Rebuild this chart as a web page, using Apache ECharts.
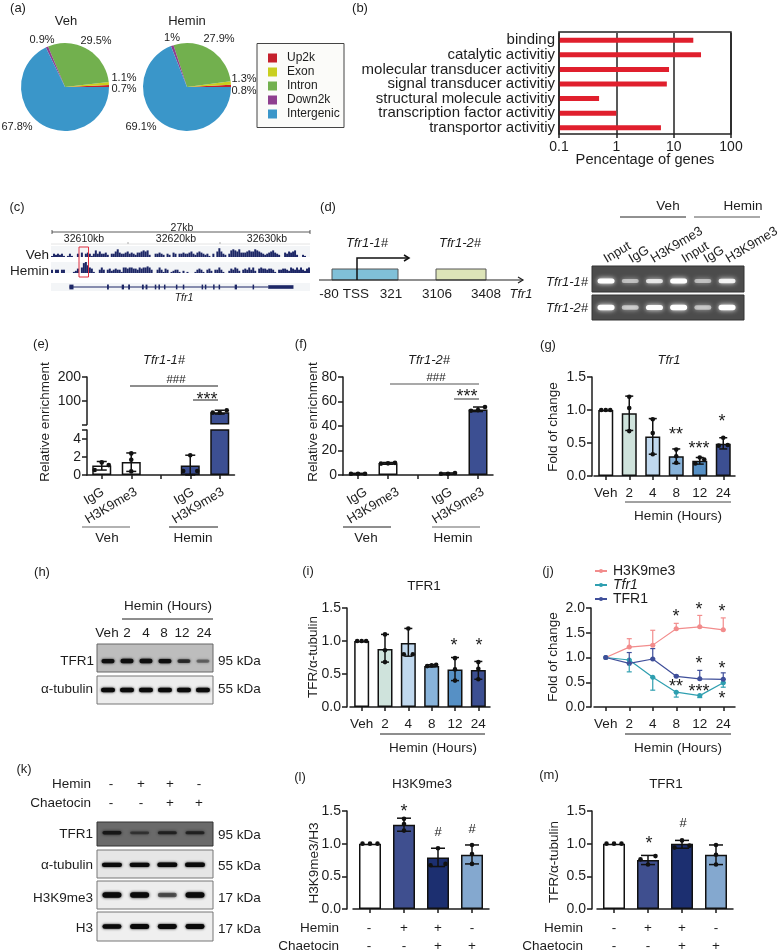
<!DOCTYPE html>
<html><head><meta charset="utf-8">
<style>html,body{margin:0;padding:0;background:#fff}#c{width:780px;height:952px}</style>
<script src="https://cdn.jsdelivr.net/npm/echarts@6/dist/echarts.min.js"></script>
</head><body><div id="c"></div>
<script>
// ---------- DATA ----------
const pieNames = ['Up2k','Exon','Intron','Down2k','Intergenic'];
const pieColors = ['#c5202c','#c9cf1f','#72b04e','#8e3f8f','#3a96c9'];
const vehPie = [0.7,1.1,29.5,0.9,67.8];
const heminPie = [0.8,1.3,27.9,1.0,69.1];

const goTerms = ['binding','catalytic activitiy','molecular transducer activitiy','signal transducer activitiy','structural molecule activitiy','transcription factor activitiy','transportor activitiy'];
const goValues = [22,30,8.3,7.6,0.5,1.0,6.0];
const goTicks = [0.1,1,10,100];

const vehTrack = [1,3,2,3,2,3,1,0,1,3,1,0,0,3,0,4,0,3,4,3,1,3,6,3,5,3,3,4,2,0,3,3,5,7,4,3,3,4,5,3,4,3,2,4,4,5,6,5,6,2,0,0,3,3,4,3,2,0,3,2,0,4,3,0,3,3,4,3,3,4,5,3,2,4,5,4,3,2,3,1,0,3,0,5,8,5,3,2,0,3,6,7,6,5,7,4,4,4,5,6,5,5,7,6,5,4,3,2,3,4,5,6,4,3,2,0,0,4,3,5,4,5,6,2,0,0,2,1,0,0];
const heminTrack = [3,0,3,3,0,3,3,0,0,0,0,1,2,4,0,5,9,10,7,5,4,1,0,0,3,5,3,0,3,4,2,3,4,3,3,1,5,5,4,5,5,4,4,3,5,4,5,5,6,5,3,0,0,3,5,3,1,4,3,0,1,2,3,3,1,0,2,0,1,0,0,0,1,3,4,3,1,0,3,4,2,0,3,3,5,3,1,0,0,2,4,3,5,4,2,0,3,4,3,5,3,5,2,0,4,5,4,4,3,4,4,3,1,0,3,3,4,4,3,2,5,4,3,5,3,5,3,2,4,5];
const trackRangeKb = [32606.5,32634.7];
const exons = [[32608.5,32608.95],[32612.6,32612.8],[32614.2,32614.45],[32614.9,32615.1],[32616.4,32616.6],[32616.8,32617],[32617.8,32617.95],[32618.2,32618.35],[32618.8,32618.95],[32620.1,32620.25],[32620.85,32621],[32622.9,32623],[32623.25,32623.35],[32624.15,32624.25],[32624.75,32624.85],[32626.5,32626.75],[32628.45,32628.55]];
const utr = [[32630.15,32632.9]];
const intron = [32608.5,32630.15];

const gelLanes = ['Input','IgG','H3K9me3','Input','IgG','H3K9me3'];
const gelRow1 = [1,0.4,0.65,1,0.4,0.75];
const gelRow2 = [1,0.45,0.85,1,0.42,0.9];

const enrichCats = ['IgG','H3K9me3','','IgG','H3K9me3'];
const eMeans = [1.05,1.45,null,1.05,52];
const eLo = [0.55,0.4,null,0,44];
const eHi = [1.5,2.45,null,2.2,60];
const ePoints = [[0.55,1.1,1.4],[0.4,1.7,2.4],[],[0.45,0.45,2.2],[50,50,60]];
const eTicksLow = [0,2,4];
const eTicksHigh = [100,200];

const fMeans = [1,9.5,null,1.1,53.5];
const fLo = [0.6,8.8,null,0.6,51.8];
const fHi = [1.4,10.2,null,1.7,55.5];
const fPoints = [[1,1,1],[9.3,9.5,9.9],[],[1,1,1.6],[52.5,53,55.5]];

const hourCats = ['Veh','2','4','8','12','24'];
const gMeans = [1,0.95,0.6,0.3,0.23,0.49];
const gLo = [1,0.69,0.33,0.19,0.18,0.41];
const gHi = [1,1.21,0.87,0.41,0.28,0.58];
const gPoints = [[1,1,1],[0.68,1.03,1.2],[0.33,0.65,0.86],[0.2,0.3,0.4],[0.19,0.25,0.28],[0.46,0.47,0.58]];

const iMeans = [1,0.88,0.97,0.62,0.57,0.56];
const iLo = [1,0.68,0.77,0.61,0.4,0.42];
const iHi = [1,1.1,1.19,0.64,0.75,0.69];
const iPoints = [[1,1,1],[0.68,0.86,1.1],[0.8,0.8,1.19],[0.62,0.63,0.64],[0.4,0.57,0.74],[0.42,0.58,0.68]];

const jH3k = [1,1.21,1.25,1.58,1.62,1.56];
const jH3kHi = [1,1.38,1.55,1.69,1.85,1.8];
const jTfr1m = [1,0.95,0.6,0.3,0.23,0.49];
const jTfr1mLo = [1,0.71,0.34,0.2,0.19,0.4];
const jTfr1p = [1,0.88,0.97,0.62,0.57,0.56];
const jTfr1pHi = [1,1.1,1.18,0.64,0.74,0.69];

const lmCats = ['a','b','c','d'];
const hemSigns = ['-','+','+','-'];
const chaSigns = ['-','-','+','+'];
const lMeans = [1,1.29,0.79,0.83];
const lLo = [1,1.19,0.65,0.69];
const lHi = [1,1.39,0.93,0.98];
const lPoints = [[1,1,1],[1.2,1.3,1.38],[0.67,0.69,0.93],[0.69,0.84,0.98]];
const mMeans = [1,0.75,1,0.83];
const mLo = [1,0.68,0.93,0.68];
const mHi = [1,0.82,1.05,0.98];
const mPoints = [[1,1,1],[0.68,0.76,0.81],[0.94,0.97,1.05],[0.68,0.83,0.98]];

const hBlotTFR1 = [0.9,1,0.95,0.9,0.55,0.25];
const hBlotTub = [1,0.95,0.95,0.95,1,0.9];
const kBlotTFR1 = [0.95,0.4,0.65,0.65];
const kBlotTub = [0.95,0.95,1,1];
const kBlotH3K = [1,1,0.4,0.95];
const kBlotH3 = [0.85,1,0.95,0.95];

// ---------- STYLE ----------
const FONT = '"Liberation Sans",Arial,sans-serif';
const INK = '#1d1d1d';
const hourColors = ['#ffffff','#cfe3dc','#c0d8ee','#88b3da','#5690c5','#3c4f92'];
const lmColors = ['#ffffff','#3f4f8f','#1c2f70','#84a8cf'];
const fColors = ['#ffffff','#ffffff','#ffffff','#3c4f92','#3c4f92'];

const O = {grid:[],xAxis:[],yAxis:[],series:[],graphic:[],legend:[]};
function addGrid(x0,x1,y0,y1,extra){
  O.grid.push(Object.assign({left:x0,top:y0,width:x1-x0,height:y1-y0,containLabel:false},extra||{}));
  return O.grid.length-1;
}
function T(text,x,y,o){
  o=o||{};
  O.graphic.push({type:'text',x:x,y:y,rotation:(o.rot||0)*Math.PI/180,z:20,
    style:{text:text,x:0,y:0,fill:o.fill||INK,font:(o.italic?'italic ':'')+(o.size||13.5)+'px '+FONT,
      textAlign:o.align||'center',textVerticalAlign:'middle'}});
}
function L(x1,y1,x2,y2,c,w){
  O.graphic.push({type:'line',z:20,shape:{x1,y1,x2,y2},style:{stroke:c||INK,lineWidth:w||1}});
}
function R(x,y,w,h,o){
  O.graphic.push({type:'rect',z:o.z||19,shape:{x,y,width:w,height:h},style:{fill:o.fill||'none',stroke:o.stroke||'none',lineWidth:o.lw||1}});
}
function star(s,x,y){T(s,x,y+4,{size:18});}
function hash(s,x,y){T(s,x,y,{size:s.length>1?11.5:13});}

// dots share a bar: close values spread out sideways
function swarm(vals,pxPerUnit,spread){
  const out=[];const sorted=vals.slice().sort((a,b)=>a-b);
  let i=0;
  while(i<sorted.length){
    let j=i;while(j+1<sorted.length&&(sorted[j+1]-sorted[i])*pxPerUnit<5)j++;
    const n=j-i+1;
    for(let k=0;k<n;k++)out.push([sorted[i+k],n===1?0:n===2?(k?spread:-spread):(k-1)*spread]);
    i=j+1;
  }
  return out;
}
function errSeries(gi,means,lo,hi,cap,color,lw){
  return {type:'custom',xAxisIndex:gi,yAxisIndex:gi,z:5,silent:true,clip:false,
    data:means.map((m,i)=>m==null?null:[i,m,lo[i],hi[i]]).filter(Boolean),
    renderItem:(p,api)=>{
      const a=api.coord([api.value(0),api.value(2)]),b=api.coord([api.value(0),api.value(3)]);
      const st={stroke:color||'#111',lineWidth:lw||1.5};
      const ch=[{type:'line',shape:{x1:a[0],y1:a[1],x2:b[0],y2:b[1]},style:st}];
      if(Math.abs(a[1]-b[1])>0.5){
        ch.push({type:'line',shape:{x1:a[0]-cap,y1:b[1],x2:a[0]+cap,y2:b[1]},style:st});
        ch.push({type:'line',shape:{x1:a[0]-cap,y1:a[1],x2:a[0]+cap,y2:a[1]},style:st});
      }
      return {type:'group',children:ch};
    },encode:{x:0,y:1}};
}
function dotSeries(gi,points,pxPerUnit,spread,r){
  const d=[];points.forEach((vals,i)=>swarm(vals,pxPerUnit,spread).forEach(s=>d.push([i,s[0],s[1]])));
  return {type:'custom',xAxisIndex:gi,yAxisIndex:gi,z:6,silent:true,clip:false,data:d,
    renderItem:(p,api)=>{
      const c=api.coord([api.value(0),api.value(1)]);
      return {type:'circle',shape:{cx:c[0]+api.value(2),cy:c[1],r:r||2.3},style:{fill:'#111'}};
    },encode:{x:0,y:1}};
}
function yAx(gi,min,max,iv,extra){
  return Object.assign({gridIndex:gi,type:'value',min,max,interval:iv,splitLine:{show:false},
    axisLine:{show:true,lineStyle:{color:INK,width:1.5}},axisTick:{show:true,length:5,lineStyle:{color:INK,width:1.5}},
    axisLabel:{color:INK,fontFamily:FONT,fontSize:14,margin:6,formatter:v=>iv<1?v.toFixed(1):String(v)}},extra||{});
}
function xAx(gi,cats,extra,labelExtra){
  return Object.assign({gridIndex:gi,type:'category',data:cats,boundaryGap:true,
    axisLine:{show:true,onZero:false,lineStyle:{color:INK,width:1.5}},
    axisTick:{show:true,alignWithLabel:true,length:4,lineStyle:{color:INK,width:1.5}},
    axisLabel:Object.assign({color:INK,fontFamily:FONT,fontSize:13.5,margin:10,interval:0},labelExtra||{})},extra||{});
}
function barS(gi,vals,colors,w){
  return {type:'bar',xAxisIndex:gi,yAxisIndex:gi,barWidth:w,z:3,silent:true,clip:true,
    data:vals.map((v,i)=>({value:v,itemStyle:{color:colors[i],borderColor:'#111',borderWidth:1.5}}))};
}
function barPanel(p){
  const gi=addGrid(p.x0,p.x1,p.y0,p.y1);
  O.xAxis.push(xAx(gi,p.cats,{},p.labelX));
  O.yAxis.push(yAx(gi,p.min,p.max,p.iv,p.axisOffset?{offset:p.axisOffset}:{}));
  O.series.push(barS(gi,p.means,p.colors,p.bw));
  O.series.push(errSeries(gi,p.means,p.lo,p.hi,p.cap));
  O.series.push(dotSeries(gi,p.points,(p.y1-p.y0)/(p.max-p.min),p.spread));
  return gi;
}
function blot(x0,x1,y0,y1,vals,laneMin,laneMax,bg,band,bw,bh,blur,border,yf){
  const gi=addGrid(x0,x1,y0,y1,{show:true,backgroundColor:bg,borderColor:border||'#555',borderWidth:1});
  O.xAxis.push({gridIndex:gi,type:'value',min:laneMin,max:laneMax,show:false});
  O.yAxis.push({gridIndex:gi,type:'value',min:0,max:1,show:false});
  O.series.push({type:'custom',xAxisIndex:gi,yAxisIndex:gi,z:4,silent:true,clip:true,
    data:vals.map((v,i)=>[i,yf==null?0.5:yf,v]),
    renderItem:(p,api)=>{
      const c=api.coord([api.value(0),api.value(1)]),v=api.value(2);
      const h=bh*(0.65+0.35*v);
      return {type:'rect',shape:{x:c[0]-bw/2,y:c[1]-h/2,width:bw,height:h,r:h/2},
        style:{fill:band,opacity:Math.min(1,0.12+v),shadowBlur:blur,shadowColor:band}};
    },encode:{x:0,y:1}});
}
// ---------- (a) ----------
function pie(vals,cx){
  O.series.push({type:'pie',center:[cx,87],radius:[0,44],startAngle:0,clockwise:false,silent:true,
    label:{show:false},labelLine:{show:false},avoidLabelOverlap:false,minAngle:0,
    itemStyle:{borderWidth:0},animation:false,
    data:vals.map((v,i)=>({name:pieNames[i],value:v,itemStyle:{color:pieColors[i]}}))});
}
pie(vehPie,65);pie(heminPie,187);
T('(a)',18,8,{size:13});T('Veh',66,21,{size:13});T('Hemin',187,21,{size:13});
[['0.9%',42,40],['29.5%',96,41],['1.1%',124,78],['0.7%',124,89],['67.8%',17,127],
 ['1%',172,38],['27.9%',219,39],['1.3%',244,79],['0.8%',244,91],['69.1%',141,127]].forEach(a=>T(a[0],a[1],a[2],{size:11}));
R(257,43.5,87,84,{fill:'#fbfbf9',stroke:'#444',lw:1,z:1});
O.legend.push({data:pieNames,orient:'vertical',left:268,top:52,itemWidth:9,itemHeight:9,itemGap:2,icon:'rect',
  selectedMode:false,padding:0,z:20,textStyle:{color:INK,fontFamily:FONT,fontSize:12,padding:[0,0,0,5]}});

// ---------- (b) ----------
T('(b)',360,8,{size:13});
(function(){
  const gi=addGrid(559,731,33,135);
  R(559,32,172,102,{stroke:'#222',lw:1.5,z:8});
  O.xAxis.push({gridIndex:gi,type:'log',logBase:10,min:goTicks[0],max:goTicks[3],
    axisLine:{show:false},axisTick:{show:true,length:3,lineStyle:{color:'#222',width:1.5}},minorTick:{show:false},
    splitLine:{show:true,lineStyle:{color:'#222',width:1.5}},minorSplitLine:{show:false},
    axisLabel:{color:INK,fontFamily:FONT,fontSize:14,margin:5,formatter:v=>String(+(+v).toPrecision(3)),hideOverlap:false}});
  O.yAxis.push({gridIndex:gi,type:'category',data:goTerms,inverse:true,axisLine:{show:false},axisTick:{show:false},
    axisLabel:{color:INK,fontFamily:FONT,fontSize:15,margin:4,interval:0}});
  O.series.push({type:'custom',xAxisIndex:gi,yAxisIndex:gi,z:5,silent:true,clip:false,
    data:goValues.map((v,i)=>[v,i]),encode:{x:0,y:1},
    renderItem:(p,api)=>{
      const a=api.coord([goTicks[0],api.value(1)]),b=api.coord([api.value(0),api.value(1)]);
      return {type:'rect',shape:{x:a[0],y:a[1]-2.5,width:b[0]-a[0],height:5},style:{fill:'#e01f2d'}};
    }});
})();
T('Pencentage of genes',645,160,{size:14.7});

// ---------- (c) ----------
T('(c)',17,207,{size:13});
T('27kb',182,228,{size:10.5});
L(52,232,310,232,'#333',0.8);L(52,230,52,234,'#333',0.8);L(310,230,310,234,'#333',0.8);
T('32610kb',84,239,{size:10.5});T('32620kb',176,239,{size:10.5});T('32630kb',267,239,{size:10.5});
L(51,244,310,244,'#ddd',0.8);L(128,242,128,244,'#999',0.8);L(220,242,220,244,'#999',0.8);
function track(vals,y0,y1){
  const gi=addGrid(51,310,y0,y1,{show:true,backgroundColor:'#f3f5f7',borderWidth:0});
  O.xAxis.push({gridIndex:gi,type:'category',data:vals.map((v,i)=>i),show:false,boundaryGap:true});
  O.yAxis.push({gridIndex:gi,type:'value',min:0,max:10,show:false});
  O.series.push({type:'bar',xAxisIndex:gi,yAxisIndex:gi,data:vals,barCategoryGap:0,silent:true,itemStyle:{color:'#1d2766'}});
}
track(vehTrack,246,257);track(heminTrack,262,273);
T('Veh',49,255,{align:'right'});T('Hemin',49,271,{align:'right'});
(function(){
  const gi=addGrid(51,310,283,291,{show:true,backgroundColor:'#f3f5f7',borderWidth:0});
  O.xAxis.push({gridIndex:gi,type:'value',min:trackRangeKb[0],max:trackRangeKb[1],show:false,scale:true});
  O.yAxis.push({gridIndex:gi,type:'value',min:0,max:1,show:false});
  O.series.push({type:'custom',xAxisIndex:gi,yAxisIndex:gi,silent:true,
    data:[[intron[0],intron[1],0.12]].concat(exons.map(e=>[e[0],e[1],0.6])).concat(utr.map(e=>[e[0],e[1],0.45])),
    renderItem:(p,api)=>{
      const a=api.coord([api.value(0),0.5]),b=api.coord([api.value(1),0.5]),h=api.value(2)*8;
      return {type:'rect',shape:{x:a[0],y:a[1]-h/2,width:Math.max(1.5,b[0]-a[0]),height:h},style:{fill:'#1d2766'}};
    },encode:{x:0,y:2}});
})();
T('Tfr1',184,298,{size:10.5,italic:true});
R(79,247,9.5,30,{stroke:'#e03040',lw:1,z:22});

// ---------- (d) ----------
T('(d)',328,207,{size:13});
R(332,269,66,11,{fill:'#80c0d8',stroke:'#555',lw:1});
R(436,269,50,11,{fill:'#dde4b8',stroke:'#555',lw:1});
L(319,280,523,280,'#222',1.2);
O.graphic.push({type:'polyline',z:21,shape:{points:[[518,277],[523,280],[518,283]]},style:{stroke:'#222',fill:'none',lineWidth:1.2}});
O.graphic.push({type:'polyline',z:21,shape:{points:[[357,280],[357,258],[409,258]]},style:{stroke:'#111',fill:'none',lineWidth:1.5}});
O.graphic.push({type:'polyline',z:21,shape:{points:[[404,255],[409,258],[404,261]]},style:{stroke:'#111',fill:'none',lineWidth:1.5}});
T('Tfr1-1#',367,243,{italic:true,size:13});T('Tfr1-2#',460,243,{italic:true,size:13});
[['-80',329],['TSS',356],['321',391],['3106',437],['3408',486]].forEach(a=>T(a[0],a[1],294));
T('Tfr1',521,294,{italic:true,size:13});
blot(592,744,266,292,gelRow1,-0.58,5.7,'#4c4c4c','#ffffff',17,5,5,'#333',0.42);
blot(592,744,295,320,gelRow2,-0.58,5.7,'#4c4c4c','#ffffff',17,5.5,5,'#333');
T('Tfr1-1#',588,282,{italic:true,align:'right',size:13});T('Tfr1-2#',588,308,{italic:true,align:'right',size:13});
[[605,gelLanes[0]],[630,gelLanes[1]],[652,gelLanes[2]],[683,gelLanes[3]],[705,gelLanes[4]],[727,gelLanes[5]]].forEach(a=>T(a[1],a[0],260,{align:'left',rot:31,size:13}));
L(620,217,686,217,'#222',1);L(694,217,760,217,'#555',1);
T('Veh',668,206);T('Hemin',743,206);

// ---------- (e) ----------
T('(e)',41,344,{size:13});T('Tfr1-1#',164,360,{italic:true,size:13});
(function(){
  const lo=addGrid(87,234.5,430,475);
  O.xAxis.push(xAx(lo,enrichCats,{},{show:false}));
  O.yAxis.push(yAx(lo,0,5,2,{axisLabel:{color:INK,fontFamily:FONT,fontSize:14,margin:6,formatter:v=>eTicksLow.includes(v)?String(v):''}}));
  O.series.push(barS(lo,eMeans,fColors,19));
  O.series.push(errSeries(lo,eMeans.map((m,i)=>i<4?m:null),eLo,eHi,5));
  O.series.push(dotSeries(lo,ePoints.map((v,i)=>i<4?v:[]),9,7));
  const hi=addGrid(87,234.5,377,424.5);
  O.xAxis.push(xAx(hi,enrichCats,{show:false}));
  O.yAxis.push(yAx(hi,0,200,100,{axisLabel:{color:INK,fontFamily:FONT,fontSize:14,margin:6,formatter:v=>eTicksHigh.includes(v)?String(v):''}}));
  O.series.push(barS(hi,[null,null,null,null,eMeans[4]],fColors,19));
  O.series.push(errSeries(hi,[null,null,null,null,eMeans[4]],[0,0,0,0,eLo[4]],[0,0,0,0,eHi[4]],5));
  O.series.push(dotSeries(hi,[[],[],[],[],ePoints[4]],0.24,7));
})();
T('Relative enrichment',45,422,{rot:90});
L(130,386,218,386);hash('###',176,380);L(193,400,218,400);star('***',207,396);
[[103,0],[136,1],[193,3],[223,4]].forEach(a=>T(enrichCats[a[1]],a[0],491,{align:'right',rot:31,size:13}));
L(82,527,130,527,'#666',1.2);T('Veh',107,538);L(169,527,218,527);T('Hemin',193,538);

// ---------- (f) ----------
T('(f)',301,344,{size:13});T('Tfr1-2#',429,360,{italic:true,size:13});
barPanel({x0:343,x1:493,y0:377,y1:475,cats:enrichCats,labelX:{show:false},min:0,max:80,iv:20,
  means:fMeans,lo:fLo,hi:fHi,points:fPoints,colors:fColors,bw:19,cap:5,spread:7});
T('Relative enrichment',313,422,{rot:90});
L(390,384,479,384,'#555',1.2);hash('###',436,378);L(454,399,479,399,'#555',1.2);star('***',467,393);
[[366,0],[398,1],[451,3],[483,4]].forEach(a=>T(enrichCats[a[1]],a[0],491,{align:'right',rot:31,size:13}));
L(343,527,391,527);T('Veh',366,538);L(432,527,480,527,'#666',1.2);T('Hemin',453,538);

// ---------- (g) ----------
T('(g)',548,345,{size:13});T('Tfr1',669,360,{italic:true,size:13});
barPanel({x0:594,x1:735,y0:377,y1:476,cats:hourCats,min:0,max:1.5,iv:0.5,axisOffset:2,
  means:gMeans,lo:gLo,hi:gHi,points:gPoints,colors:hourColors,bw:15,cap:4,spread:4.5});
T('Fold of change',553,427,{rot:90});
star('**',676,431);star('***',699,445);star('*',722,418);
L(625,502,731,502,'#444',1);T('Hemin (Hours)',678,516);

// ---------- (h) ----------
T('(h)',42,572,{size:13});T('Hemin (Hours)',168,606);L(122,619,213,619);
[['Veh',107],['2',127],['4',146],['8',164],['12',182],['24',204]].forEach(a=>T(a[0],a[1],633));
blot(97,213,644,672,hBlotTFR1,-0.58,5.53,'#bdbdbd','#0e0e0e',13,4.5,2.5,'#666',0.39);
blot(97,213,676,704,hBlotTub,-0.58,5.53,'#ededed','#0a0a0a',14,4.5,2.5,'#777');
T('TFR1',94,661,{align:'right'});T('α-tubulin',93,689,{align:'right'});
T('95 kDa',218,661,{align:'left'});T('55 kDa',218,689,{align:'left'});

// ---------- (i) ----------
T('(i)',308,571,{size:13});T('TFR1',424,586);
barPanel({x0:350,x1:490,y0:608,y1:707,cats:hourCats,min:0,max:1.5,iv:0.5,axisOffset:3,
  means:iMeans,lo:iLo,hi:iHi,points:iPoints,colors:hourColors,bw:15,cap:4,spread:4.5});
T('TFR/α-tubulin',313,657,{rot:90});
star('*',454,642);star('*',479,642);
L(380,734,485,734);T('Hemin (Hours)',433,748);

// ---------- (j) ----------
T('(j)',548,571,{size:13});
(function(){
  const gi=addGrid(594,735,608,707);
  O.xAxis.push(xAx(gi,hourCats));
  O.yAxis.push(yAx(gi,0,2,0.5,{offset:3}));
  const lineS=(name,data,color)=>({type:'line',name,xAxisIndex:gi,yAxisIndex:gi,data,symbol:'circle',symbolSize:5,z:4,silent:true,
    lineStyle:{color,width:1.2},itemStyle:{color}});
  O.series.push(lineS('H3K9me3',jH3k,'#f28c8c'));
  O.series.push(lineS('Tfr1',jTfr1m,'#2f9fb0'));
  O.series.push(lineS('TFR1',jTfr1p,'#3f4f9a'));
  O.series.push(errSeries(gi,jH3k,jH3k,jH3kHi,2.5,'#f28c8c',1.2));
  O.series.push(errSeries(gi,jTfr1m,jTfr1mLo,jTfr1m,2.5,'#2f9fb0',1.2));
  O.series.push(errSeries(gi,jTfr1p,jTfr1p,jTfr1pHi,2.5,'#3f4f9a',1.2));
  O.legend.push({data:['H3K9me3','Tfr1','TFR1'],orient:'vertical',left:594,top:564,itemWidth:12,itemHeight:5,itemGap:0,selectedMode:false,padding:0,
    formatter:n=>n==='Tfr1'?'{i|Tfr1}':'{n|'+n+'}',
    textStyle:{rich:{i:{fontStyle:'italic',fontFamily:FONT,fontSize:14,color:INK,lineHeight:14},n:{fontFamily:FONT,fontSize:14,color:INK,lineHeight:14}},padding:[0,0,0,1]}});
})();
T('Fold of change',553,657,{rot:90});
star('*',676,613);star('*',699,606);star('*',722,608);star('*',699,660);star('*',722,665);
star('**',676,683);star('***',699,688);star('*',722,695);
L(625,734,731,734);T('Hemin (Hours)',678,748);

// ---------- (k) ----------
T('(k)',24,769,{size:13});
T('Hemin',91,784,{align:'right'});T('Chaetocin',91,803,{align:'right'});
[111,141,170,199].forEach((x,i)=>{T(hemSigns[i],x,784);T(chaSigns[i],x,803);});
blot(97,213,822,846,kBlotTFR1,-0.54,3.65,'#6a6a6a','#161616',19,3.5,3,'#333',0.55);
blot(97,213,850,878,kBlotTub,-0.54,3.65,'#e6e6e6','#0a0a0a',20,4.5,2.5,'#777',0.47);
blot(97,213,881,909,kBlotH3K,-0.54,3.65,'#ededed','#0a0a0a',19,5.5,3,'#777',0.5);
blot(97,213,912,941,kBlotH3,-0.54,3.65,'#efefef','#0a0a0a',19,5,2.5,'#777');
[['TFR1',834],['α-tubulin',865],['H3K9me3',898],['H3',928]].forEach(a=>T(a[0],93,a[1],{align:'right'}));
[['95 kDa',835],['55 kDa',866],['17 kDa',898],['17 kDa',929]].forEach(a=>T(a[0],218,a[1],{align:'left'}));

// ---------- (l) ----------
T('(l)',300,777,{size:13});T('H3K9me3',422,784);
barPanel({x0:353,x1:489,y0:811,y1:909,cats:lmCats,labelX:{show:false},min:0,max:1.5,iv:0.5,axisOffset:6,
  means:lMeans,lo:lLo,hi:lHi,points:lPoints,colors:lmColors,bw:22,cap:7,spread:7.5});
T('H3K9me3/H3',314,863,{rot:90});
star('*',404,808);hash('#',438,832);hash('#',472,829);
T('Hemin',339,928,{align:'right'});T('Chaetocin',339,946,{align:'right'});
[369,404,438,472].forEach((x,i)=>{T(hemSigns[i],x,928);T(chaSigns[i],x,946);});

// ---------- (m) ----------
T('(m)',549,775,{size:13});T('TFR1',666,784);
barPanel({x0:597,x1:733,y0:811,y1:909,cats:lmCats,labelX:{show:false},min:0,max:1.5,iv:0.5,axisOffset:5,
  means:mMeans,lo:mLo,hi:mHi,points:mPoints,colors:lmColors,bw:22,cap:7,spread:7.5});
T('TFR/α-tubulin',554,862,{rot:90});
star('*',649,840);hash('#',683,823);
T('Hemin',583,928,{align:'right'});T('Chaetocin',583,946,{align:'right'});
[614,648,682,716].forEach((x,i)=>{T(hemSigns[i],x,928);T(chaSigns[i],x,946);});

// ---------- render ----------
const chart=echarts.init(document.getElementById('c'),null,{renderer:'canvas'});
chart.setOption(Object.assign({animation:false,backgroundColor:'#fff',textStyle:{fontFamily:FONT}},O));
</script></body></html>
